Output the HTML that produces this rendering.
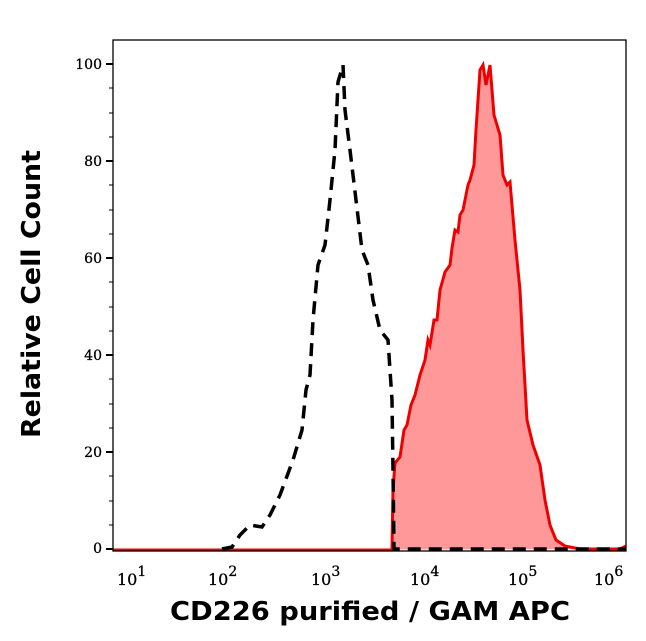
<!DOCTYPE html><html><head><meta charset="utf-8"><style>body{margin:0;background:#fff}svg{display:block}</style></head><body>
<svg width="646" height="641" viewBox="0 0 646 641" xmlns="http://www.w3.org/2000/svg" font-family="'DejaVu Serif','Liberation Serif',serif">
<rect width="646" height="641" fill="#fff"/>
<path d="M113,550 L390,550 L392,549 L393,490 L395,463 L400,457 L404,430 L407,425 L411,405 L415,395 L420,375 L425,360 L428,340 L430,345 L434,320 L437,320 L440,290 L445,272 L450,265 L452,248 L455,230 L458,232 L460,215 L463,210 L465,200 L468,185 L470,180 L474,165 L476,130 L480,70 L483,65 L486,85 L490,65 L494,115 L497,125 L500,135 L503,175 L507,185 L510,182 L515,240 L520,290 L523,350 L527,420 L533,445 L540,465 L545,500 L550,525 L556,540 L565,546 L580,549 L626,549 Z" fill="#ff9999" stroke="none"/>
<path d="M113,550 L390,550 L392,549 L393,490 L395,463 L400,457 L404,430 L407,425 L411,405 L415,395 L420,375 L425,360 L428,340 L430,345 L434,320 L437,320 L440,290 L445,272 L450,265 L452,248 L455,230 L458,232 L460,215 L463,210 L465,200 L468,185 L470,180 L474,165 L476,130 L480,70 L483,65 L486,85 L490,65 L494,115 L497,125 L500,135 L503,175 L507,185 L510,182 L515,240 L520,290 L523,350 L527,420 L533,445 L540,465 L545,500 L550,525 L556,540 L565,546 L580,549 L620,549 L626,546" fill="none" stroke="#ee0000" stroke-width="3"/>
<path d="M222,549 L232,547 L240,535 L250,525 L262,527 L270,515 L280,495 L293,460 L302,430 L306,390 L310,375 L313,320 L318,265 L325,245 L330,200 L335,150 L338,82 L343,65 L345,110 L350,150 L356,200 L362,250 L368,265 L373,300 L380,330 L388,340 L392,400 L393,470 L394,549 L626,549" fill="none" stroke="#000" stroke-width="3.5" stroke-dasharray="13,8"/>
<rect x="113" y="40" width="513" height="511" fill="none" stroke="#000" stroke-width="1.3"/>
<g stroke="#000" stroke-width="2">
<line x1="106" y1="64" x2="113" y2="64"/><line x1="106" y1="161" x2="113" y2="161"/><line x1="106" y1="258" x2="113" y2="258"/><line x1="106" y1="355" x2="113" y2="355"/><line x1="106" y1="452" x2="113" y2="452"/><line x1="106" y1="549" x2="113" y2="549"/>
</g>
<g stroke="#000" stroke-width="1">
<line x1="109" y1="88" x2="113" y2="88"/><line x1="109" y1="113" x2="113" y2="113"/><line x1="109" y1="137" x2="113" y2="137"/>
<line x1="109" y1="185" x2="113" y2="185"/><line x1="109" y1="210" x2="113" y2="210"/><line x1="109" y1="234" x2="113" y2="234"/>
<line x1="109" y1="282" x2="113" y2="282"/><line x1="109" y1="307" x2="113" y2="307"/><line x1="109" y1="331" x2="113" y2="331"/>
<line x1="109" y1="379" x2="113" y2="379"/><line x1="109" y1="404" x2="113" y2="404"/><line x1="109" y1="428" x2="113" y2="428"/>
<line x1="109" y1="476" x2="113" y2="476"/><line x1="109" y1="501" x2="113" y2="501"/><line x1="109" y1="525" x2="113" y2="525"/>
</g>
<g font-size="14" text-anchor="end" fill="#000" stroke="#000" stroke-width="0.3">
<text x="102" y="69">100</text><text x="102" y="166">80</text><text x="102" y="263">60</text><text x="102" y="360">40</text><text x="102" y="457">20</text><text x="102" y="553">0</text>
</g>
<g id="xt" stroke="#000"></g>
<g font-size="16" fill="#000" stroke="#000" stroke-width="0.3">
<text x="117" y="585">10<tspan dy="-9" font-size="14">1</tspan></text>
<text x="208" y="585">10<tspan dy="-9" font-size="14">2</tspan></text>
<text x="311" y="585">10<tspan dy="-9" font-size="14">3</tspan></text>
<text x="410" y="585">10<tspan dy="-9" font-size="14">4</tspan></text>
<text x="508" y="585">10<tspan dy="-9" font-size="14">5</tspan></text>
<text x="594" y="585">10<tspan dy="-9" font-size="14">6</tspan></text>
</g>
<text x="170" y="620" font-family="'DejaVu Sans','Liberation Sans',sans-serif" font-weight="bold" font-size="26" textLength="400" lengthAdjust="spacingAndGlyphs">CD226 purified / GAM APC</text>
<text transform="translate(40,438) rotate(-90)" font-family="'DejaVu Sans','Liberation Sans',sans-serif" font-weight="bold" font-size="26" textLength="288" lengthAdjust="spacingAndGlyphs">Relative Cell Count</text>
<script>
var g=document.getElementById('xt'),s='';
for(var d=1;d<6;d++){for(var k=1;k<10;k++){var x=114.5+(d-1+Math.log10(k))*102.6;var L=k==1?7:3.5;s+='<line x1="'+x+'" y1="551" x2="'+x+'" y2="'+(551+L)+'" stroke-width="'+(k==1?2:1)+'"/>';}}
var x6=114.5+5*102.6;s+='<line x1="'+x6+'" y1="551" x2="'+x6+'" y2="558" stroke-width="2"/>';
g.innerHTML=s;
</script>
</svg></body></html>
